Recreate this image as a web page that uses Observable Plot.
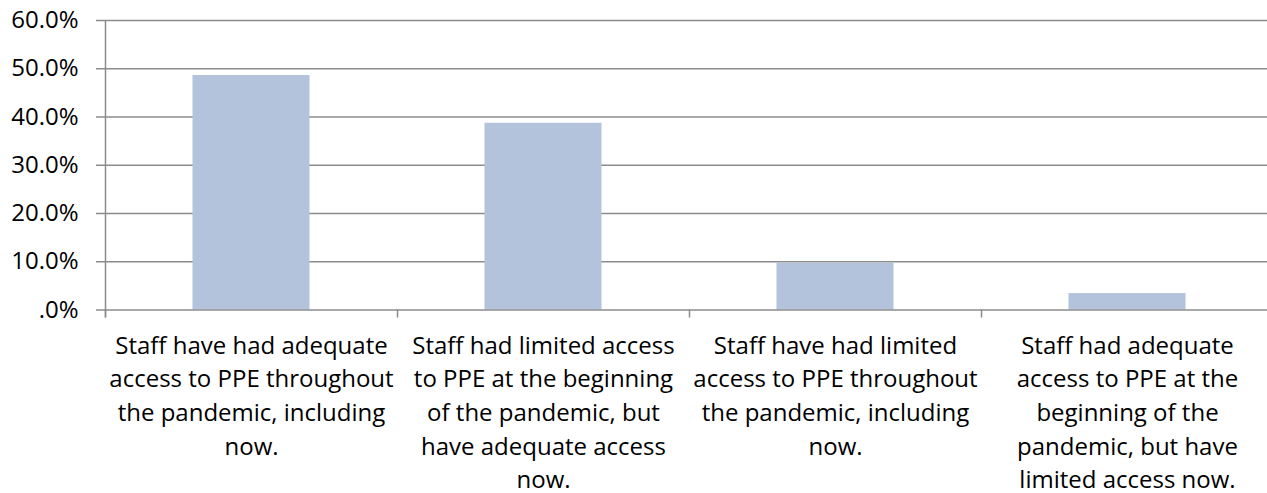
<!DOCTYPE html>
<html>
<head>
<meta charset="utf-8">
<script src="https://cdn.jsdelivr.net/npm/d3@7"></script>
<script src="https://cdn.jsdelivr.net/npm/@observablehq/plot@0.6"></script>
<style>
  html, body { margin: 0; padding: 0; background: #fff; }
  #chart svg { display: block; }
</style>
</head>
<body>
<div id="chart"></div>
<script>
const categories = [
  "Staff have had adequate access to PPE throughout the pandemic, including now.",
  "Staff had limited access to PPE at the beginning of the pandemic, but have adequate access now.",
  "Staff have had limited access to PPE throughout the pandemic, including now.",
  "Staff had adequate access to PPE at the beginning of the pandemic, but have limited access now."
];
const categoryLabels = [
  "Staff have had adequate\naccess to PPE throughout\nthe pandemic, including\nnow.",
  "Staff had limited access\nto PPE at the beginning\nof the pandemic, but\nhave adequate access\nnow.",
  "Staff have had limited\naccess to PPE throughout\nthe pandemic, including\nnow.",
  "Staff had adequate\naccess to PPE at the\nbeginning of the\npandemic, but have\nlimited access now."
];
const values = [48.6, 38.7, 9.7, 3.4];
const yTicks = [0, 10, 20, 30, 40, 50, 60];
const yTickLabels = [".0%", "10.0%", "20.0%", "30.0%", "40.0%", "50.0%", "60.0%"];

const data = categories.map((c, i) => ({category: c, value: values[i], label: categoryLabels[i]}));

const W = 1267, H = 493;
const mL = 105, mR = -6, mT = 20, mB = 183.5;
const halfBand = (W - mL - mR) / categories.length / 2;
const barInset = halfBand - 58.5;
const gridColor = "#8c8c8c";

const chart = Plot.plot({
  width: W,
  height: H,
  marginLeft: mL,
  marginRight: mR,
  marginTop: mT,
  marginBottom: mB,
  style: {fontFamily: "'Open Sans', sans-serif", fontSize: "24px", color: "#000", background: "#fff", overflow: "visible"},
  x: {type: "band", domain: categories, padding: 0, axis: null},
  y: {domain: [0, 60], axis: null},
  marks: [
    Plot.ruleY(yTicks.filter(d => d !== 0), {stroke: gridColor, strokeWidth: 1.5, insetLeft: -9}),
    Plot.barY(data, {x: "category", y: "value", fill: "#b4c3dc", insetLeft: barInset, insetRight: barInset}),
    Plot.ruleY([0], {stroke: gridColor, strokeWidth: 1.5, insetLeft: -9}),
    Plot.ruleX([categories[0]], {y1: () => 60, y2: () => 0, dx: -halfBand, insetBottom: -8, stroke: gridColor, strokeWidth: 1.5}),
    Plot.ruleX(categories, {y1: () => 0, y2: () => 0, dx: -halfBand, insetBottom: -8, stroke: gridColor, strokeWidth: 1.5}),
    Plot.axisY({ticks: yTicks, tickSize: 0, tickPadding: 27, tickFormat: (d, i) => yTickLabels[yTicks.indexOf(d)], fontSize: 24, fill: "#000", label: null}),
    Plot.text(data, {x: "category", y: () => 0, text: "label", lineAnchor: "top", dy: 20, lineHeight: 33.6 / 24, fontSize: 24, fill: "#000"})
  ]
});
document.getElementById("chart").appendChild(chart);
</script>
</body>
</html>
